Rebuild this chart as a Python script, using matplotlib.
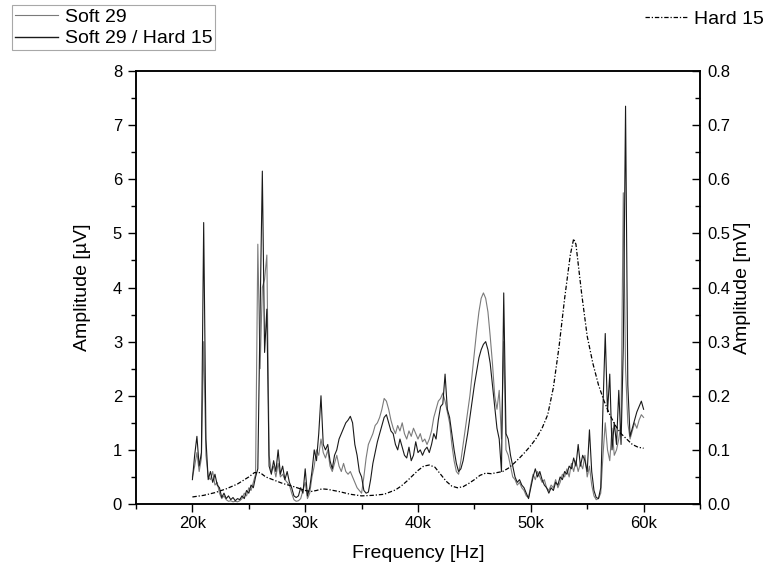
import numpy as np
import matplotlib
matplotlib.use("Agg")
import matplotlib.pyplot as plt
from matplotlib.ticker import MultipleLocator, FuncFormatter, FormatStrFormatter

plt.rcParams['font.family'] = ['Liberation Sans', 'DejaVu Sans']

# Frequency grid for the two left-axis series (Hz), 20 kHz .. 60 kHz in 0.2 kHz steps
freq = np.arange(20000, 60001, 200)

# Soft 29 / Hard 15 (left axis, uV)
soft_hard = [
    0.45, 0.9, 1.25, 0.7, 0.95, 5.2, 1.2, 0.45, 0.6, 0.4,
    0.55, 0.35, 0.3, 0.12, 0.2, 0.1, 0.15, 0.08, 0.12, 0.06,
    0.1, 0.08, 0.15, 0.1, 0.25, 0.2, 0.35, 0.3, 0.5, 0.65,
    3.5, 6.15, 2.8, 3.6, 0.7, 0.55, 0.8, 0.6, 1.0, 0.55,
    0.7, 0.45, 0.6, 0.4, 0.3, 0.15, 0.12, 0.15, 0.3, 0.2,
    0.65, 0.15, 0.3, 0.6, 1.0, 0.8, 1.3, 2.0, 1.1, 1.0,
    1.1, 0.8, 0.65, 0.9, 1.0, 1.2, 1.3, 1.4, 1.5, 1.55,
    1.62, 1.5, 1.1, 0.9, 0.6, 0.5, 0.25, 0.2, 0.22, 0.45,
    0.75, 0.95, 1.15, 1.3, 1.45, 1.6, 1.65, 1.5, 1.35, 1.3,
    1.1, 1.0, 1.2, 1.05, 0.9, 0.85, 1.05, 0.8, 0.9, 1.15,
    0.95, 1.0, 0.9, 1.0, 1.05, 0.95, 1.1, 1.3, 1.2, 1.55,
    1.8, 1.85, 2.4, 1.75, 1.6, 1.3, 1.0, 0.75, 0.6, 0.65,
    0.8, 1.05, 1.3, 1.6, 1.9, 2.2, 2.45, 2.7, 2.85, 2.95,
    3.0, 2.85, 2.6, 2.2, 1.8, 1.4, 1.2, 0.6, 3.9, 1.3,
    1.2, 0.9, 0.7, 0.5, 0.4, 0.45, 0.35, 0.3, 0.2, 0.1,
    0.3, 0.5, 0.65, 0.5, 0.6, 0.45, 0.35, 0.3, 0.2, 0.3,
    0.25, 0.4, 0.35, 0.5, 0.45, 0.6, 0.55, 0.7, 0.65, 0.85,
    0.7, 1.1, 0.7, 0.9, 0.8, 0.6, 1.37, 0.6, 0.25, 0.12,
    0.1, 0.3, 1.8, 3.15, 1.7, 2.4, 1.0, 1.5, 1.1, 2.1,
    1.1, 2.9, 7.35, 2.2, 1.25, 1.4, 1.55, 1.7, 1.8, 1.9,
    1.75,
]

# Soft 29 (left axis, uV)
soft = [
    0.5, 0.7, 0.95, 0.6, 0.85, 3.0, 0.9, 0.5, 0.45, 0.6,
    0.35, 0.4, 0.2, 0.1, 0.15, 0.08, 0.05, 0.06, 0.04, 0.05,
    0.04, 0.06, 0.1, 0.2, 0.15, 0.3, 0.25, 0.4, 0.55, 4.8,
    2.5, 4.0, 4.15, 4.6, 0.9, 0.6, 0.7, 0.5, 0.75, 0.5,
    0.55, 0.45, 0.4, 0.35, 0.2, 0.08, 0.05, 0.06, 0.1, 0.25,
    0.4, 0.1, 0.2, 0.5, 0.7, 1.0, 0.9, 1.2, 0.95, 0.85,
    1.0, 0.7, 0.6, 0.75, 0.9, 0.7, 0.6, 0.75, 0.6, 0.55,
    0.6, 0.5, 0.4, 0.3, 0.25, 0.2, 0.5, 0.85, 1.1, 1.2,
    1.3, 1.45, 1.5, 1.6, 1.75, 1.95, 1.9, 1.75, 1.55, 1.4,
    1.3, 1.45, 1.35, 1.5, 1.3, 1.2, 1.35, 1.25, 1.4, 1.3,
    1.2, 1.3, 1.15, 1.2, 1.1, 1.2, 1.35, 1.6, 1.75, 1.9,
    1.95, 2.05, 1.9, 1.7, 1.5, 1.1, 0.8, 0.6, 0.55, 0.8,
    1.1, 1.4, 1.7, 2.0, 2.4, 2.8, 3.2, 3.55, 3.8, 3.9,
    3.8, 3.55, 3.1, 2.6, 2.0, 1.75, 2.1, 1.2, 3.0, 1.0,
    0.9, 0.7, 0.5, 0.45, 0.35, 0.4, 0.3, 0.25, 0.15, 0.12,
    0.35, 0.55, 0.45, 0.6, 0.5, 0.4, 0.45, 0.3, 0.25, 0.35,
    0.3, 0.45, 0.3, 0.4, 0.55, 0.5, 0.65, 0.5, 0.75, 0.6,
    0.8, 0.6, 0.75, 0.65, 0.9, 0.5, 0.7, 0.35, 0.15, 0.08,
    0.1, 0.2, 0.9, 1.5, 1.0, 0.8, 1.4, 0.9, 1.0, 1.2,
    1.5, 5.75, 2.5, 1.5, 1.2, 1.35, 1.5, 1.4, 1.55, 1.65,
    1.6,
]

# Hard 15 (right axis, mV)
hard_freq = [20000, 21000, 22000, 23000, 24000, 25000, 25500, 26000, 26500, 27000,
             28000, 29000, 30000, 30500, 31000, 31500, 32000, 33000, 34000, 35000,
             36000, 37000, 38000, 38500, 39000, 39500, 40000, 40500, 41000, 41500,
             42000, 42500, 43000, 43500, 44000, 44500, 45000, 45500, 46000, 46500,
             47000, 47500, 48000, 48500, 49000, 49500, 50000, 50500, 51000, 51500,
             52000, 52500, 53000, 53500, 53800, 54000, 54500, 55000, 55500, 56000,
             56500, 57000, 57500, 58000, 58500, 59000, 59500, 60000]
hard = [0.013, 0.016, 0.021, 0.028, 0.037, 0.050, 0.058, 0.058, 0.050, 0.046,
        0.038, 0.032, 0.025, 0.023, 0.025, 0.028, 0.027, 0.023, 0.018, 0.015,
        0.016, 0.018, 0.026, 0.033, 0.042, 0.052, 0.062, 0.070, 0.072, 0.068,
        0.055, 0.042, 0.033, 0.030, 0.032, 0.038, 0.045, 0.053, 0.057, 0.056,
        0.058, 0.060, 0.066, 0.075, 0.085, 0.096, 0.108, 0.122, 0.140, 0.165,
        0.215, 0.290, 0.380, 0.460, 0.490, 0.480, 0.390, 0.310, 0.260, 0.220,
        0.190, 0.165, 0.145, 0.130, 0.120, 0.110, 0.105, 0.103]

W, H = 767, 573
fig = plt.figure(figsize=(W / 100, H / 100), dpi=100)
ax = fig.add_axes([136 / W, (H - 504) / H, (700 - 136) / W, (504 - 71) / H])
ax2 = ax.twinx()

l_soft, = ax.plot(freq, soft, color='#7a7a7a', lw=0.8)
l_sh, = ax.plot(freq, soft_hard, color='#1a1a1a', lw=0.8)
l_hard, = ax2.plot(hard_freq, hard, color='black', lw=0.9,
                   linestyle=(0, (3.5, 1.5, 1, 1.5)))

ax.set_xlim(15000, 65000)
ax.set_ylim(0, 8)
ax2.set_ylim(0, 0.8)

ax.xaxis.set_major_locator(MultipleLocator(10000))
ax.xaxis.set_minor_locator(MultipleLocator(5000))
ax.xaxis.set_major_formatter(FuncFormatter(lambda v, p: f"{int(round(v / 1000))}k"))
ax.yaxis.set_major_locator(MultipleLocator(1))
ax.yaxis.set_minor_locator(MultipleLocator(0.5))
ax2.yaxis.set_major_locator(MultipleLocator(0.1))
ax2.yaxis.set_minor_locator(MultipleLocator(0.05))
ax2.yaxis.set_major_formatter(FormatStrFormatter('%.1f'))

for a in (ax, ax2):
    for s in a.spines.values():
        s.set_linewidth(1.1)

ax.tick_params(axis='both', which='major', direction='out', length=5.5, width=1.0,
               labelsize=12, pad=3.5)
ax.tick_params(axis='both', which='minor', direction='out', length=3.5, width=1.0)
ax.tick_params(axis='x', top=False, which='both')
ax.tick_params(axis='y', which='major', pad=4.5)
ax2.tick_params(axis='y', which='major', direction='in', length=5.5, width=1.0,
                labelsize=12, pad=5.5)
ax2.tick_params(axis='y', which='minor', direction='in', length=3.5, width=1.0)

ax.set_xlabel('Frequency [Hz]', fontsize=14, labelpad=10)
ax.set_ylabel('Amplitude [\u00b5V]', fontsize=14, labelpad=16)
ax2.set_ylabel('Amplitude [mV]', fontsize=14, labelpad=2)

leg1 = fig.legend([l_soft, l_sh], ['Soft 29', 'Soft 29 / Hard 15'],
                  loc='upper left', bbox_to_anchor=(12 / W, 1 - 5 / H),
                  borderaxespad=0, borderpad=0.15, handlelength=2.2,
                  handletextpad=0.35, labelspacing=0.22, fontsize=14,
                  fancybox=False, framealpha=1, edgecolor='#a8a8a8')
leg1.get_frame().set_linewidth(0.8)
leg1.get_lines()[0].set_linewidth(0.8)
leg1.get_lines()[1].set_linewidth(1.0)

leg2 = fig.legend([l_hard], ['Hard 15'], loc='upper right',
                  bbox_to_anchor=(1 - 3 / W, 1 - 10 / H), borderaxespad=0,
                  borderpad=0, handlelength=2.2, handletextpad=0.35,
                  fontsize=14, frameon=False)

fig.savefig('out.png', dpi=100)
